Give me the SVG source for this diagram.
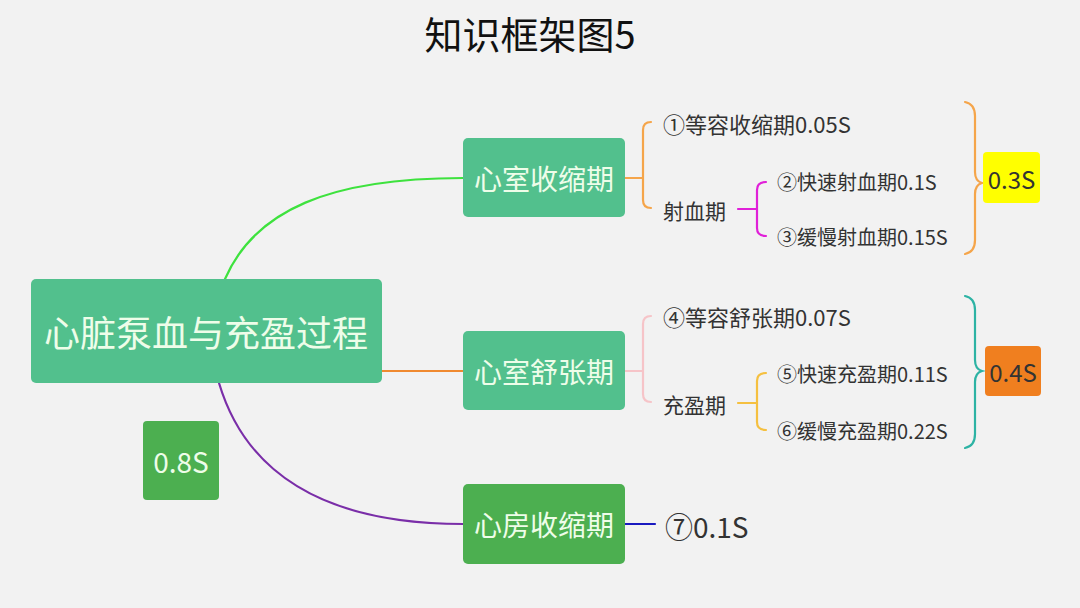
<svg xmlns="http://www.w3.org/2000/svg" width="1080" height="608" viewBox="0 0 1080 608">
<style>
text{font-family:"Noto Sans CJK SC","Microsoft YaHei",sans-serif;}
.t{fill:#333333;dominant-baseline:central;}
.n{fill:#eefde9;text-anchor:middle;dominant-baseline:central;}
.c{fill:none;stroke-width:2.2;stroke-linecap:round;}
</style>
<rect width="1080" height="608" fill="#f2f2f2"/>
<text x="530" y="32" font-size="38" fill="#111111" text-anchor="middle" dominant-baseline="central">知识框架图5</text>
<g id="connectors">
<path class="c" d="M225,279 C255,210 330,178 463,178" stroke="#3ee23e"/>
<path class="c" d="M382,371 L463,371" stroke="#f08a30"/>
<path class="c" d="M219,383 C245,470 320,524 463,524" stroke="#7a2ea8"/>
<path class="c" d="M625,524 L655,524" stroke="#1a1ac0"/>
<path class="c" d="M625,178 L643,178 M651,122 Q643,122 643,130 L643,200 Q643,208 651,208" stroke="#f5a54a" stroke-width="1.8"/>
<path class="c" d="M738,209 L757,209 M766,182 Q757,182 757,190 L757,228 Q757,236 766,236" stroke="#e020d8" stroke-width="1.8"/>
<path class="c" d="M965,102 Q975,104 975,116 L975,172 Q975,181 982,183 Q975,185 975,194 L975,240 Q975,252 965,254" stroke="#f5a54a" stroke-width="1.8"/>
<path class="c" d="M625,371 L643,371 M651,316 Q643,316 643,324 L643,394 Q643,402 651,402" stroke="#f6c4c8" stroke-width="1.8"/>
<path class="c" d="M738,403 L757,403 M766,373 Q757,373 757,381 L757,422 Q757,430 766,430" stroke="#f5c040" stroke-width="1.8"/>
<path class="c" d="M965,296 Q975,298 975,310 L975,360 Q975,369 982,371 Q975,373 975,382 L975,434 Q975,446 965,448" stroke="#2db3a4" stroke-width="1.8"/>
</g>
<g id="root">
<rect x="31" y="279" width="351" height="104" rx="5" fill="#52c08d"/>
<text class="n" x="206" y="331" font-size="36">心脏泵血与充盈过程</text>
</g>
<g id="total">
<rect x="143" y="421" width="76" height="79" rx="4" fill="#4caf50"/>
<text class="n" x="181" y="461" font-size="28">0.8S</text>
</g>
<g id="systole">
<rect x="463" y="138" width="162" height="79" rx="5" fill="#52c08d"/>
<text class="n" x="544" y="178" font-size="28">心室收缩期</text>
</g>
<g id="diastole">
<rect x="463" y="331" width="162" height="79" rx="5" fill="#52c08d"/>
<text class="n" x="544" y="371" font-size="28">心室舒张期</text>
</g>
<g id="atrial">
<rect x="463" y="484" width="162" height="80" rx="5" fill="#4caf50"/>
<text class="n" x="544" y="524" font-size="28">心房收缩期</text>
</g>
<g id="atrial-time"><text class="t" x="665" y="526" font-size="28">⑦0.1S</text></g>
<g id="n1"><text class="t" x="663" y="123" font-size="22">①等容收缩期0.05S</text></g>
<g id="ejection"><text class="t" x="663" y="210" font-size="21">射血期</text></g>
<g id="n2"><text class="t" x="777" y="181" font-size="20">②快速射血期0.1S</text></g>
<g id="n3"><text class="t" x="777" y="236" font-size="20">③缓慢射血期0.15S</text></g>
<g id="t03">
<rect x="983" y="152" width="57" height="51" rx="4" fill="#ffff00"/>
<text class="t" x="1011.5" y="178" font-size="24" text-anchor="middle">0.3S</text>
</g>
<g id="n4"><text class="t" x="663" y="316" font-size="22">④等容舒张期0.07S</text></g>
<g id="filling"><text class="t" x="663" y="404" font-size="21">充盈期</text></g>
<g id="n5"><text class="t" x="777" y="373" font-size="20">⑤快速充盈期0.11S</text></g>
<g id="n6"><text class="t" x="777" y="430" font-size="20">⑥缓慢充盈期0.22S</text></g>
<g id="t04">
<rect x="985" y="346" width="56" height="50" rx="4" fill="#f07f1f"/>
<text class="t" x="1013" y="371" font-size="24" text-anchor="middle">0.4S</text>
</g>
</svg>
